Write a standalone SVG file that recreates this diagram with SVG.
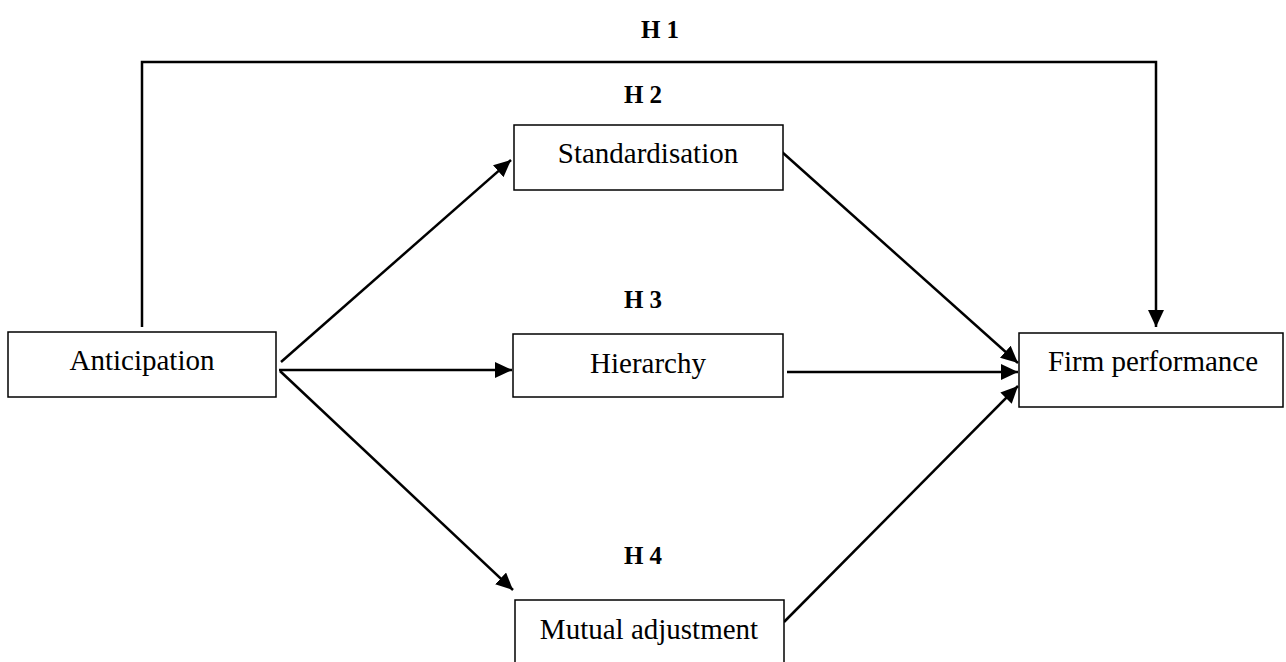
<svg xmlns="http://www.w3.org/2000/svg" width="1286" height="662" viewBox="0 0 1286 662">
<style>
.box{fill:#fff;stroke:#000;stroke-width:1.5}
.lbl{font-family:"Liberation Serif","Times New Roman",serif;font-size:29px;fill:#000;text-anchor:middle}
.h{font-family:"Liberation Serif","Times New Roman",serif;font-size:25px;font-weight:bold;fill:#000;text-anchor:middle}
.c{fill:none;stroke:#000;stroke-width:2.5}
</style>
<defs>
<marker id="ahb" markerWidth="17" markerHeight="16" refX="17" refY="8" orient="auto" markerUnits="userSpaceOnUse" viewBox="0 0 17 16">
<path d="M0,0 L17,8 L0,16 Z" fill="#000"/>
</marker>
</defs>
<rect width="1286" height="662" fill="#fff"/>
<g id="connectors">
<path class="c" d="M142,327 V62 H1156 V327" marker-end="url(#ahb)"/>
<line class="c" x1="281" y1="362" x2="511" y2="160" marker-end="url(#ahb)"/>
<line class="c" x1="279" y1="370" x2="512" y2="370" marker-end="url(#ahb)"/>
<line class="c" x1="280" y1="371" x2="513" y2="590" marker-end="url(#ahb)"/>
<line class="c" x1="782" y1="152" x2="1018" y2="363" marker-end="url(#ahb)"/>
<line class="c" x1="787" y1="372" x2="1018" y2="372" marker-end="url(#ahb)"/>
<line class="c" x1="784" y1="622" x2="1018" y2="386" marker-end="url(#ahb)"/>
</g>
<g id="labels">
<text class="h" x="660" y="38">H 1</text>
<text class="h" x="643" y="103">H 2</text>
<text class="h" x="643" y="308">H 3</text>
<text class="h" x="643" y="564">H 4</text>
</g>
<g id="anticipation">
<rect class="box" x="8" y="332" width="268" height="65"/>
<text class="lbl" x="142" y="370">Anticipation</text>
</g>
<g id="standardisation">
<rect class="box" x="514" y="125" width="269" height="65"/>
<text class="lbl" x="648" y="163">Standardisation</text>
</g>
<g id="hierarchy">
<rect class="box" x="513" y="334" width="270" height="63"/>
<text class="lbl" x="648" y="373">Hierarchy</text>
</g>
<g id="mutual">
<rect class="box" x="515" y="600" width="269" height="70"/>
<text class="lbl" x="649" y="639">Mutual adjustment</text>
</g>
<g id="firm">
<rect class="box" x="1019" y="333" width="264" height="74"/>
<text class="lbl" x="1153" y="371">Firm performance</text>
</g>
</svg>
